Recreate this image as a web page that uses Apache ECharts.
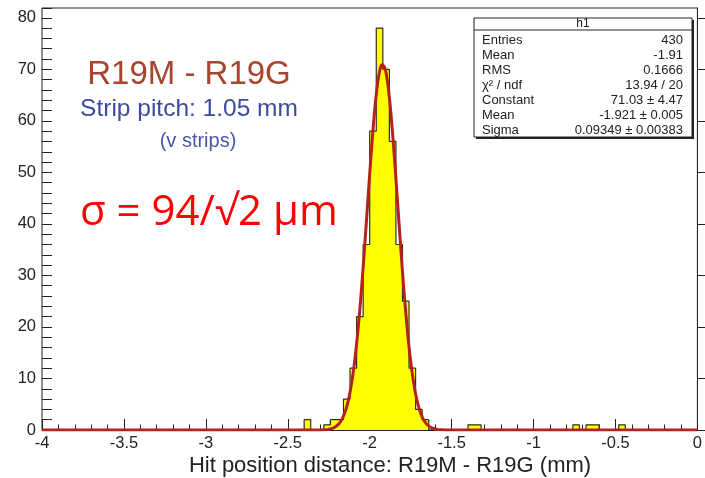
<!DOCTYPE html>
<html>
<head>
<meta charset="utf-8">
<style>
  html, body { margin: 0; padding: 0; background: #ffffff; }
  #chart { width: 705px; height: 478px; }
</style>
<script src="https://cdn.jsdelivr.net/npm/echarts@6/dist/echarts.min.js"></script>
</head>
<body>
<div id="chart"></div>
<script>
// Histogram h1: hit position distance R19M - R19G, 100 bins of 0.04 mm over [-4, 0]
const histMin = -4;
const histMax = 0;
const binWidth = 0.04;
// Low edges of the filled bins and their entries
const binLowEdges = [-2.40, -2.28, -2.24, -2.20, -2.16, -2.12, -2.08, -2.04, -2.00, -1.96,
                     -1.92, -1.88, -1.84, -1.80, -1.76, -1.72, -1.68, -1.40, -1.36, -0.76,
                     -0.68, -0.64, -0.48];
const binCounts   = [2, 1, 2, 2, 6, 12, 22, 36, 58, 78,
                     70, 56, 36, 25, 12, 4, 2, 1, 1, 1,
                     1, 1, 1];

// Gaussian fit parameters (gaus: Constant, Mean, Sigma)
const fitConstant = 71.03;
const fitMean = -1.921;
const fitSigma = 0.09349;

// Statistics box rows
const statLabels = ['Entries', 'Mean', 'RMS', 'χ² / ndf', 'Constant', 'Mean', 'Sigma'];
const statValues = ['430', '-1.91', '0.1666', '13.94 / 20', '71.03 ± 4.47', '-1.921 ± 0.005', '0.09349 ± 0.00383'];

// Axis settings
const xTickStep = 0.5;
const yTickStep = 10;
const yMinorStep = 2;
const yMax = 81.9;

const FONT = 'Liberation Sans, Arial, Helvetica, sans-serif';

// Full bin contents (zeros included) so the outline follows every bin edge
const nBins = Math.round((histMax - histMin) / binWidth);
const contents = new Array(nBins).fill(0);
binLowEdges.forEach((edge, i) => {
  contents[Math.round((edge - histMin) / binWidth)] = binCounts[i];
});
const stepOutline = [];
for (let i = 0; i < nBins; i++) {
  const lo = +(histMin + i * binWidth).toFixed(4);
  const hi = +(histMin + (i + 1) * binWidth).toFixed(4);
  stepOutline.push([lo, contents[i]], [hi, contents[i]]);
}

// Fitted function sampled over the axis range
const fitCurve = [];
const nSamples = 1000;
for (let k = 0; k <= nSamples; k++) {
  const x = histMin + (histMax - histMin) * k / nSamples;
  const z = (x - fitMean) / fitSigma;
  fitCurve.push([x, fitConstant * Math.exp(-0.5 * z * z)]);
}

// Stats box layout
const box = { x: 474, y: 18, w: 218, h: 119, header: 12 };
const rowTop = 40.5, rowStep = 15.07;
const statGraphics = [
  { type: 'rect', shape: { x: box.x + 2, y: box.y + 2, width: box.w, height: box.h },
    style: { fill: '#222' }, z: 100 },
  { type: 'rect', shape: { x: box.x, y: box.y, width: box.w, height: box.h },
    style: { fill: '#ffffff', stroke: '#222', lineWidth: 1 }, z: 101 },
  { type: 'line', shape: { x1: box.x, y1: box.y + box.header, x2: box.x + box.w, y2: box.y + box.header },
    style: { stroke: '#222', lineWidth: 1 }, z: 102 },
  { type: 'text', x: box.x + box.w / 2, y: box.y + box.header / 2, z: 102,
    style: { text: 'h1', font: '12px ' + FONT, fill: '#222', textAlign: 'center', textVerticalAlign: 'middle' } }
];
statLabels.forEach((lab, i) => {
  statGraphics.push({ type: 'text', x: box.x + 8, y: rowTop + i * rowStep, z: 102,
    style: { text: lab, font: '13px ' + FONT, fill: '#222', textAlign: 'left', textVerticalAlign: 'middle' } });
  statGraphics.push({ type: 'text', x: box.x + box.w - 9, y: rowTop + i * rowStep, z: 102,
    style: { text: statValues[i], font: '13px ' + FONT, fill: '#222', textAlign: 'right', textVerticalAlign: 'middle' } });
});

const axisColor = '#222';

const chart = echarts.init(document.getElementById('chart'), null, { renderer: 'canvas' });
chart.setOption({
  animation: false,
  backgroundColor: '#ffffff',
  grid: { left: 42, right: 6, top: 8, bottom: 48, show: true, borderColor: axisColor, borderWidth: 1, backgroundColor: '#ffffff' },
  xAxis: {
    type: 'value', min: histMin, max: histMax, interval: xTickStep,
    axisLine: { show: true, onZero: false, lineStyle: { color: axisColor, width: 1 } },
    axisTick: { show: true, inside: true, length: 11, lineStyle: { color: axisColor } },
    minorTick: { show: true, splitNumber: 5, length: 5.5, lineStyle: { color: axisColor } },
    splitLine: { show: false },
    axisLabel: { fontFamily: FONT, fontSize: 16.5, color: '#222', margin: 5 }
  },
  yAxis: [
    {
      type: 'value', min: 0, max: yMax, interval: yTickStep, position: 'left',
      axisLine: { show: true, lineStyle: { color: axisColor, width: 1 } },
      axisTick: { show: true, inside: true, length: 20, lineStyle: { color: axisColor } },
      splitLine: { show: false },
      axisLabel: {
        fontFamily: FONT, fontSize: 16.5, color: '#222', margin: 6, showMaxLabel: false,
        formatter: v => (Math.abs(v % yTickStep) < 1e-9 ? String(v) : '')
      }
    },
    {
      type: 'value', min: 0, max: yMax, interval: yMinorStep, position: 'left',
      axisLine: { show: false },
      axisTick: { show: true, inside: true, length: 10, lineStyle: { color: axisColor } },
      splitLine: { show: false },
      axisLabel: { show: false }
    }
  ],
  series: [
    {
      name: 'h1', type: 'line', data: stepOutline, symbol: 'none', xAxisIndex: 0, yAxisIndex: 0,
      lineStyle: { color: '#2e2e22', width: 1.2 },
      areaStyle: { color: '#ffff00', opacity: 1 },
      z: 2
    },
    {
      name: 'gaus', type: 'line', data: fitCurve, symbol: 'none', xAxisIndex: 0, yAxisIndex: 0,
      lineStyle: { color: '#b3221c', width: 3 },
      z: 3
    }
  ],
  graphic: [
    { type: 'text', x: 189, y: 75, style: { text: 'R19M - R19G', font: '33px ' + FONT, fill: '#a8432d', textAlign: 'center', textVerticalAlign: 'middle' } },
    { type: 'text', x: 189, y: 109, style: { text: 'Strip pitch: 1.05 mm', font: '24.5px ' + FONT, fill: '#3c4b9e', textAlign: 'center', textVerticalAlign: 'middle' } },
    { type: 'text', x: 198, y: 141, style: { text: '(v strips)', font: '20px ' + FONT, fill: '#4857a8', textAlign: 'center', textVerticalAlign: 'middle' } },
    { type: 'text', x: 80, y: 213, style: { text: 'σ = 94/√2 μm', font: '42px Open Sans, Noto Sans, sans-serif', fill: '#ff0000', textAlign: 'left', textVerticalAlign: 'middle' } },
    { type: 'text', x: 390, y: 466, style: { text: 'Hit position distance: R19M - R19G (mm)', font: '22px ' + FONT, fill: '#222', textAlign: 'center', textVerticalAlign: 'middle' } }
  ].concat(statGraphics)
});
</script>
</body>
</html>
